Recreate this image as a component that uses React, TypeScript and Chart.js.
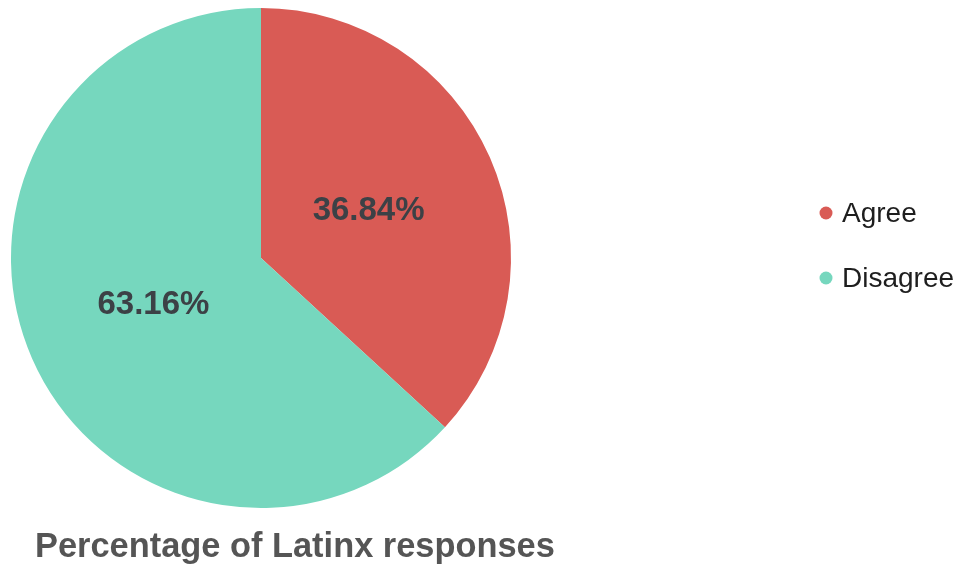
import React, { useEffect, useRef } from "react";
import { Chart, registerables } from "chart.js";

Chart.register(...registerables);

const categories = ["Agree", "Disagree"];
const values = [36.84, 63.16];
const valueLabels = ["36.84%", "63.16%"];
const colors = ["#D95B55", "#76D7BE"];
const chartTitle = "Percentage of Latinx responses";

const FONT = '"Liberation Sans", Arial, Helvetica, sans-serif';

const overlayPlugin = {
  id: "overlay",
  afterDraw(chart: any) {
    const ctx = chart.ctx;
    const area = chart.chartArea;
    const meta = chart.getDatasetMeta(0);
    ctx.save();
    // slice value labels
    ctx.font = `bold 33px ${FONT}`;
    ctx.fillStyle = "#3c4146";
    ctx.textAlign = "center";
    ctx.textBaseline = "middle";
    meta.data.forEach((arc: any, i: number) => {
      const p = arc.getProps(["x", "y", "startAngle", "endAngle", "outerRadius"], true);
      const mid = (p.startAngle + p.endAngle) / 2;
      const r = p.outerRadius * 0.47;
      ctx.fillText(valueLabels[i], p.x + Math.cos(mid) * r, p.y + Math.sin(mid) * r);
    });
    // legend
    const lx = 826;
    const ly0 = 213;
    const gap = 65;
    ctx.font = `28px ${FONT}`;
    ctx.textAlign = "left";
    ctx.textBaseline = "middle";
    categories.forEach((c, i) => {
      const y = ly0 + i * gap;
      ctx.beginPath();
      ctx.fillStyle = colors[i];
      ctx.arc(lx, y, 6.5, 0, Math.PI * 2);
      ctx.fill();
      ctx.fillStyle = "#1e1e1e";
      ctx.fillText(c, lx + 16, y + 1);
    });
    // title
    ctx.font = `bold 34.4px ${FONT}`;
    ctx.fillStyle = "#555";
    ctx.textAlign = "left";
    ctx.textBaseline = "alphabetic";
    ctx.fillText(chartTitle, area.left + 24, 557);
    ctx.restore();
  },
};

export default function App() {
  const ref = useRef<HTMLCanvasElement>(null);
  useEffect(() => {
    if (!ref.current) return;
    const chart = new Chart(ref.current, {
      type: "pie",
      data: {
        labels: categories,
        datasets: [
          {
            data: values,
            backgroundColor: colors,
            borderWidth: 0,
          },
        ],
      },
      options: {
        responsive: false,
        animation: false,
        layout: { padding: { left: 11, top: 8, right: 451, bottom: 58 } },
        plugins: {
          legend: { display: false },
          title: { display: false },
          tooltip: { enabled: false },
        },
      },
      plugins: [overlayPlugin],
    });
    return () => chart.destroy();
  }, []);
  return (
    <div style={{ position: "absolute", left: 0, top: 0, width: 962, height: 566, background: "#fff" }}>
      <canvas ref={ref} width={962} height={566} style={{ display: "block" }} />
    </div>
  );
}
